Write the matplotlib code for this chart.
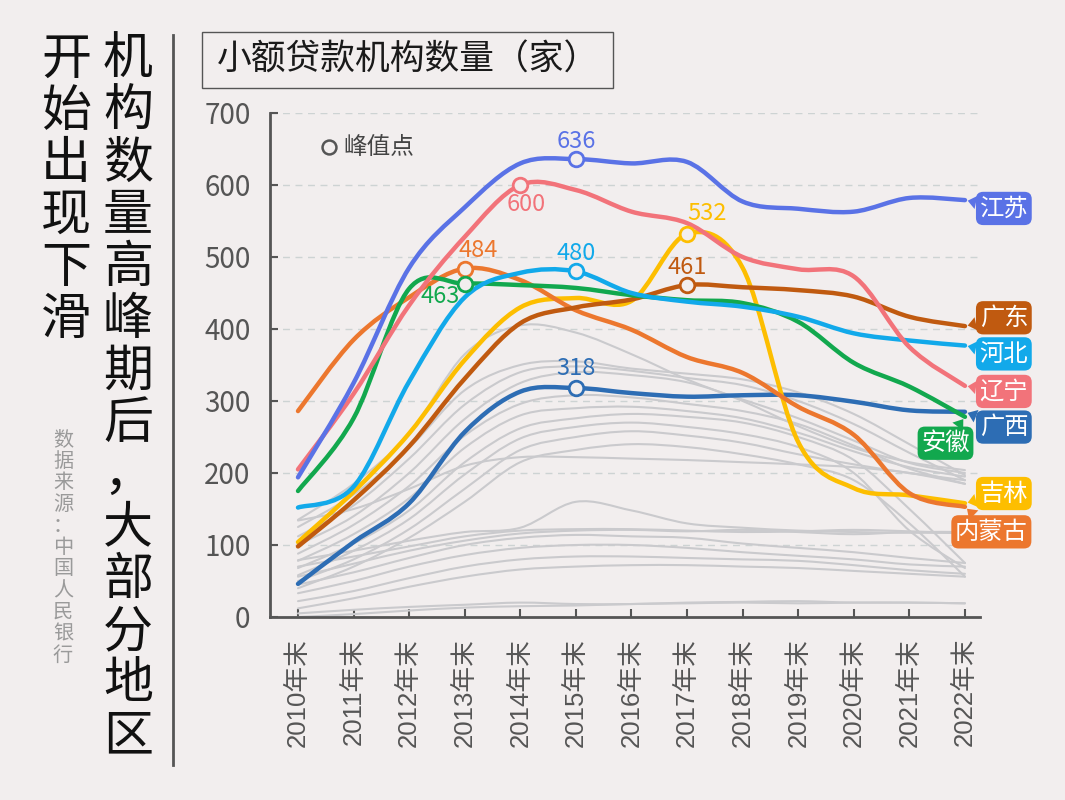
import numpy as np
import matplotlib
matplotlib.use('Agg')
import matplotlib.pyplot as plt
from matplotlib.path import Path
from matplotlib.patches import PathPatch, Rectangle
from matplotlib.lines import Line2D

plt.rcParams['font.family'] = ['Noto Sans CJK SC', 'DejaVu Sans']

# ---------------- data ----------------
years = list(range(2010, 2023))
year_labels = [f'{y}年末' for y in years]
y_ticks = [0, 100, 200, 300, 400, 500, 600, 700]

names = ['广西', '吉林', '内蒙古', '广东', '安徽', '河北', '辽宁', '江苏']
jiangsu   = [194, 325, 485, 569, 630, 636, 630, 632, 577, 567, 563, 582, 579]
liaoning  = [205, 310, 433, 528, 600, 593, 563, 547, 500, 483, 473, 375, 321]
hebei     = [152, 181, 327, 444, 478, 480, 450, 438, 431, 417, 394, 384, 377]
anhui     = [175, 276, 456, 463, 461, 457, 447, 440, 436, 410, 353, 320, 278]
guangdong = [98, 162, 237, 331, 408, 430, 441, 461, 458, 454, 445, 417, 404]
jilin     = [104, 174, 255, 357, 430, 443, 439, 532, 485, 243, 179, 169, 158]
neimenggu = [286, 385, 444, 484, 468, 426, 399, 361, 339, 292, 253, 172, 153]
guangxi   = [46, 104, 158, 257, 313, 318, 311, 306, 308, 308, 299, 287, 285]
series = [guangxi, jilin, neimenggu, guangdong, anhui, hebei, liaoning, jiangsu]
colors = ['#2D6DB4', '#FDBE00', '#EC772E', '#C05A10', '#12A84E', '#12A9EA', '#F2737A', '#5A72E6']

gray_series = [
    [135, 185, 255, 365, 405, 395, 365, 330, 300, 265, 235, 215, 204],
    [125, 170, 235, 315, 350, 355, 345, 338, 330, 312, 282, 240, 197],
    [112, 155, 220, 295, 340, 348, 342, 332, 322, 300, 268, 228, 190],
    [100, 140, 200, 275, 325, 340, 336, 326, 302, 276, 245, 214, 200],
    [88, 128, 182, 252, 296, 308, 305, 296, 286, 268, 238, 206, 185],
    [78, 115, 165, 235, 280, 290, 292, 286, 276, 256, 230, 208, 195],
    [68, 102, 148, 215, 262, 276, 282, 278, 270, 250, 218, 150, 75],
    [58, 92, 136, 198, 248, 264, 270, 264, 254, 236, 200, 120, 68],
    [50, 80, 122, 178, 232, 250, 258, 252, 242, 226, 212, 200, 190],
    [40, 70, 110, 160, 215, 232, 240, 236, 226, 212, 190, 130, 56],
    [134, 150, 178, 210, 222, 222, 220, 218, 215, 212, 208, 200, 185],
    [79, 92, 106, 118, 124, 160, 148, 130, 124, 120, 118, 117, 117],
    [70, 84, 98, 112, 120, 122, 122, 120, 118, 119, 121, 119, 116],
    [56, 74, 92, 106, 116, 120, 121, 119, 121, 118, 115, 118, 118],
    [45, 62, 82, 100, 110, 114, 112, 110, 102, 96, 90, 82, 75],
    [33, 50, 70, 86, 96, 100, 100, 96, 90, 85, 80, 73, 70],
    [22, 36, 54, 70, 80, 84, 84, 82, 80, 78, 72, 65, 60],
    [12, 26, 42, 56, 66, 70, 72, 72, 70, 68, 64, 60, 56],
    [5, 10, 14, 17, 20, 18, 18, 20, 21, 22, 20, 20, 19],
    [0, 4, 9, 13, 15, 16, 18, 19, 20, 19, 20, 20, 19],
]

# label placement (offset points) for end labels and peak labels
end_offsets = {'江苏': (28, -6), '广东': (28, 6), '河北': (28, -6), '辽宁': (28, -4),
               '广西': (28, -11), '安徽': (-14, -19), '吉林': (28, 7), '内蒙古': (19, -18)}
peak_offsets = {'江苏': (0, 13), '辽宁': (4, -14), '内蒙古': (10, 13), '河北': (0, 13),
                '安徽': (-18, -9), '吉林': (14, 15), '广东': (0, 13), '广西': (0, 14)}

title = '小额贷款机构数量（家）'
left_title_1 = '机构数量高峰期后，大部分地区'
left_title_2 = '开始出现下滑'
source = '数据来源：中国人民银行'

BG = '#F2EEEE'
W, H = 1065, 800


def smooth_path(xs, ys, k=1 / 6):
    xs = np.asarray(xs, float)
    ys = np.asarray(ys, float)
    n = len(xs)
    verts = [(xs[0], ys[0])]
    codes = [Path.MOVETO]
    for i in range(n - 1):
        i0 = max(i - 1, 0)
        i3 = min(i + 2, n - 1)
        c1 = (xs[i] + (xs[i + 1] - xs[i0]) * k, ys[i] + (ys[i + 1] - ys[i0]) * k)
        c2 = (xs[i + 1] - (xs[i3] - xs[i]) * k, ys[i + 1] - (ys[i3] - ys[i]) * k)
        verts += [c1, c2, (xs[i + 1], ys[i + 1])]
        codes += [Path.CURVE4] * 3
    return Path(verts, codes)


fig = plt.figure(figsize=(W / 100, H / 100), dpi=100, facecolor=BG)
ax = fig.add_axes([270 / W, 1 - 617 / H, 710 / W, 504 / H])
ax.set_facecolor(BG)
ax.set_xlim(2010 - 28 / 55.58, 2010 + (980 - 298) / 55.58)
ax.set_ylim(0, 700)

for s in ['top', 'right']:
    ax.spines[s].set_visible(False)
for s in ['left', 'bottom']:
    ax.spines[s].set_color('#555555')
    ax.spines[s].set_linewidth(2)

ax.set_yticks(y_ticks)
ax.set_xticks(years)
ax.set_xticklabels(year_labels, rotation=90, fontsize=18.5,
                   family=['Liberation Sans', 'Noto Sans CJK SC'])
ax.tick_params(axis='both', direction='in', length=6, width=1.5, color='#555555',
               labelcolor='#555555')
ax.tick_params(axis='x', pad=15)
ax.tick_params(axis='y', pad=14, labelsize=20)
ax.yaxis.grid(True, ls=(0, (5, 4)), color='#CDD3D3', lw=1)
ax.set_axisbelow(True)

for g in gray_series:
    ax.add_patch(PathPatch(smooth_path(years, g), fill=False, ec='#CACACD', lw=1.5,
                           zorder=2, capstyle='round'))

for name, vals, col in zip(names, series, colors):
    ax.add_patch(PathPatch(smooth_path(years, vals), fill=False, ec=col, lw=3.2,
                           zorder=3, capstyle='round', joinstyle='round'))
    idx = int(np.argmax(vals))
    ax.plot(years[idx], vals[idx], 'o', ms=10.5, mfc=BG, mec=col, mew=2, zorder=5)
    ax.annotate(str(vals[idx]), xy=(years[idx], vals[idx]), xytext=peak_offsets[name],
                textcoords='offset points', ha='center', va='center', color=col,
                fontsize=17, zorder=6)
    ax.annotate(name, xy=(years[-1], vals[-1]), xytext=end_offsets[name],
                textcoords='offset points', ha='center', va='center', color='white',
                fontsize=17.5, zorder=7, annotation_clip=False,
                bbox=dict(boxstyle='round,pad=0.15,rounding_size=0.3', fc=col, ec='none'),
                arrowprops=dict(arrowstyle='wedge,tail_width=0.55,shrink_factor=0.5',
                                fc=col, ec='none', shrinkA=0, shrinkB=2))

# legend
ax.plot([(329 - 270) / 710], [(617 - 147) / 504], 'o', ms=10, mfc='none', mec='#555555',
        mew=1.8, transform=ax.transAxes, clip_on=False)
ax.text((343 - 270) / 710, (617 - 147) / 504, '峰值点', transform=ax.transAxes,
        ha='left', va='center', fontsize=17, color='#444444')

# title box
fig.add_artist(Rectangle((202 / W, 1 - 88 / H), 411 / W, 56 / H, transform=fig.transFigure,
                         fill=False, ec='#555555', lw=1))
fig.text(407.5 / W, 1 - 60 / H, title, ha='center', va='center', fontsize=25,
         color='#1A1A1A')

# vertical separator
fig.add_artist(Line2D([173 / W, 173 / W], [1 - 35 / H, 1 - 765 / H],
                      transform=fig.transFigure, color='#555555', lw=2))

# vertical titles
for i, ch in enumerate(left_title_1):
    fig.text(128 / W, 1 - (60 + 52 * i) / H, ch, ha='center', va='center', fontsize=36,
             color='#111111')
for i, ch in enumerate(left_title_2):
    fig.text(66 / W, 1 - (60 + 52 * i) / H, ch, ha='center', va='center', fontsize=36,
             color='#111111')
for i, ch in enumerate(source):
    fig.text(63 / W, 1 - (440 + 21.5 * i) / H, ch, ha='center', va='center', fontsize=14.5,
             color='#9A9A9A')

fig.savefig('out.png', dpi=100, facecolor=BG)
